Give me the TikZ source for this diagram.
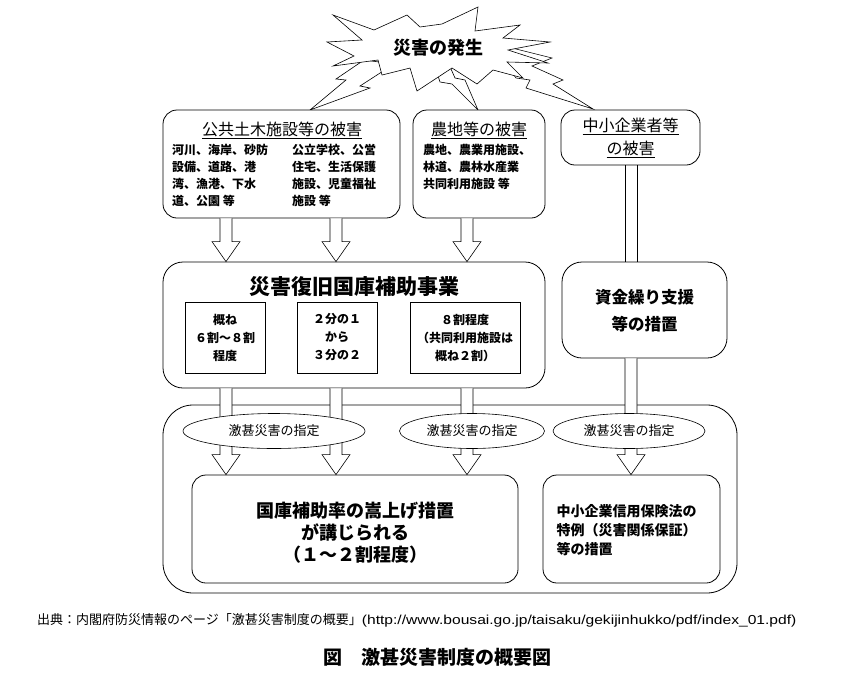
\documentclass[tikz,border=0pt]{standalone}
\usepackage{fontspec}
\setmainfont{Noto Sans CJK JP}
\newfontfamily\urlfont{Liberation Sans}
\usetikzlibrary{positioning,shapes.geometric,calc}
\newcommand\jfs[2]{\fontsize{#1}{#2}\selectfont}
\tikzset{
  bolt/.style={draw,fill=white,line width=.6pt,line join=miter},
  dmgbox/.style={draw,fill=white,rounded corners=14pt,line width=.8pt},
  mainbox/.style={draw,fill=white,rounded corners=20pt,line width=.8pt},
  ratebox/.style={draw,fill=white,line width=.6pt,align=center,font=\jfs{12}{18}\bfseries},
  blockarr/.style={draw,fill=white,line width=.6pt},
  shitei/.style={draw,ellipse,fill=white,line width=.6pt,inner sep=0pt,font=\jfs{13}{13}},
  bodytxt/.style={anchor=north west,align=left,inner sep=0pt,font=\jfs{12}{17}\bfseries},
  headtxt/.style={align=center,inner sep=0pt,font=\jfs{16}{23}}
}
% hollow arrow, and a plain double shaft
\newcommand\blockarrow[2]{%
  \draw[blockarr] let \p1=(#1), \p2=(#2) in
    (\x1-6pt,\y1) -- (\x1-6pt,\y2+20pt) -- (\x1-14pt,\y2+20pt) -- (\x1,\y2)
    -- (\x1+14pt,\y2+20pt) -- (\x1+6pt,\y2+20pt) -- (\x1+6pt,\y1);}
\newcommand\doubleshaft[2]{%
  \draw[blockarr] let \p1=(#1), \p2=(#2) in
    (\x1-6pt,\y1) -- (\x1-6pt,\y2) (\x1+6pt,\y2) -- (\x1+6pt,\y1);}

\begin{document}
\begin{tikzpicture}[x=1pt,y=-1pt]
  \useasboundingbox (0,0) rectangle (864,683);

  % lightning bolts and the burst
  \draw[bolt] (364,60) -- (336,79) -- (346,80) -- (310,110) -- (370,88) -- (360,86) -- (394,64) -- cycle;
  \draw[bolt] (433,60) -- (440,82) -- (452,84) -- (478,110) -- (465,80) -- (455,78) -- (447,60) -- cycle;
  \draw[bolt] (500,56) -- (516,78) -- (530,80) -- (526,88) -- (593,109)
    -- (553,84) -- (563,80) -- (532,66) -- (552,58) -- (504,46) -- cycle;
  \draw[bolt] (333,15) -- (374,30) -- (407,15) -- (420,27) -- (442,24) -- (478,7) -- (475,31)
    -- (520,25) -- (503,38) -- (550,42) -- (508,50) -- (548,63) -- (507,62) -- (523,78)
    -- (493,70) -- (477,84) -- (452,68) -- (417,91) -- (410,68) -- (382,75) -- (378,60)
    -- (333,66) -- (354,56) -- (327,42) -- (362,40) -- cycle;
  \node[font=\jfs{18}{18}\bfseries] (quake) at (438,48) {災害の発生};

  % boxes
  \node[draw,fill=white,rounded corners=30pt,line width=.8pt,minimum width=574pt,minimum height=188pt] (gekijin) at (450,499) {};
  \node[dmgbox,minimum width=237pt,minimum height=108pt] (pub) at (281.5,164) {};
  \node[dmgbox,minimum width=132pt,minimum height=108pt] (farm) at (479,164) {};
  \node[dmgbox,minimum width=139pt,minimum height=55pt] (smedmg) at (630.5,137.5) {};
  \node[mainbox,minimum width=382pt,minimum height=126pt] (fund) at (354,325) {};
  \node[mainbox,minimum width=165pt,minimum height=96pt] (kinyu) at (644.5,310) {};
  \node[dmgbox,minimum width=326pt,minimum height=108pt] (subsidy) at (355,529) {};
  \node[dmgbox,minimum width=177pt,minimum height=108pt] (sme) at (631.5,529) {};

  % texts of the damage boxes
  \node[headtxt] (pubhead) at (282,130) {\underline{公共土木施設等の被害}};
  \node[bodytxt] (pubA) at (172,144) {河川、海岸、砂防\\設備、道路、港\\湾、漁港、下水\\道、公園 等};
  \node[bodytxt] (pubB) at (292,144) {公立学校、公営\\住宅、生活保護\\施設、児童福祉\\施設 等};
  \node[headtxt] (farmhead) at (479,130) {\underline{農地等の被害}};
  \node[bodytxt] (farmA) at (423,144) {農地、農業用施設、\\林道、農林水産業\\共同利用施設 等};
  \node[headtxt] (smehead) at (630.5,138) {\underline{中小企業者等}\\\underline{の被害}};

  % subsidy project
  \node[font=\jfs{21}{21}\bfseries] (fundhead) at (354,287) {災害復旧国庫補助事業};
  \node[ratebox,minimum width=80pt,minimum height=71pt] (rateA) at (225,337.5) {概ね\\６割～８割\\程度};
  \node[ratebox,minimum width=80pt,minimum height=71pt] (rateB) at (337,337.5) {２分の１\\から\\３分の２};
  \node[ratebox,minimum width=110pt,minimum height=71pt] (rateC) at (465,337.5) {８割程度\\（共同利用施設は\\概ね２割）};
  \node[align=center,font=\jfs{16.5}{27}\bfseries] (kinyutxt) at (644.5,311) {資金繰り支援\\等の措置};

  % arrows
  \coordinate (a1) at (226,0);
  \coordinate (a2) at (336,0);
  \coordinate (a3) at (467,0);
  \coordinate (a4) at (631,0);
  \blockarrow{pub.south -| a1}{fund.north -| a1}
  \blockarrow{pub.south -| a2}{fund.north -| a2}
  \blockarrow{farm.south -| a3}{fund.north -| a3}
  \doubleshaft{smedmg.south -| a4}{kinyu.north -| a4}
  \blockarrow{fund.south -| a1}{subsidy.north -| a1}
  \blockarrow{fund.south -| a2}{subsidy.north -| a2}
  \blockarrow{fund.south -| a3}{subsidy.north -| a3}
  \blockarrow{kinyu.south -| a4}{sme.north -| a4}

  % designation
  \node[shitei,minimum width=182pt,minimum height=35pt] (shiteiA) at (274,431) {激甚災害の指定};
  \node[shitei,minimum width=145pt,minimum height=35pt] (shiteiB) at (472,431) {激甚災害の指定};
  \node[shitei,minimum width=152pt,minimum height=35pt] (shiteiC) at (629,431) {激甚災害の指定};

  \node[align=center,font=\jfs{18}{22}\bfseries] (subsidytxt) at (355,533) {国庫補助率の嵩上げ措置\\が講じられる\\（１～２割程度）};
  \node[anchor=west,align=left,font=\jfs{14}{19}\bfseries] (smetxt) at (553,530) {中小企業信用保険法の\\特例（災害関係保証）\\等の措置};

  % source and caption
  \node[anchor=west,inner sep=0pt,font=\jfs{13}{13}] (src) at (37,620) {出典：内閣府防災情報のページ「激甚災害制度の概要」\scalebox{1.2}[1]{\urlfont (http://www.bousai.go.jp/taisaku/gekijinhukko/pdf/index\_01.pdf)}};
  \node[font=\jfs{19}{19}\bfseries] (title) at (437,657) {図　激甚災害制度の概要図};
\end{tikzpicture}
\end{document}
